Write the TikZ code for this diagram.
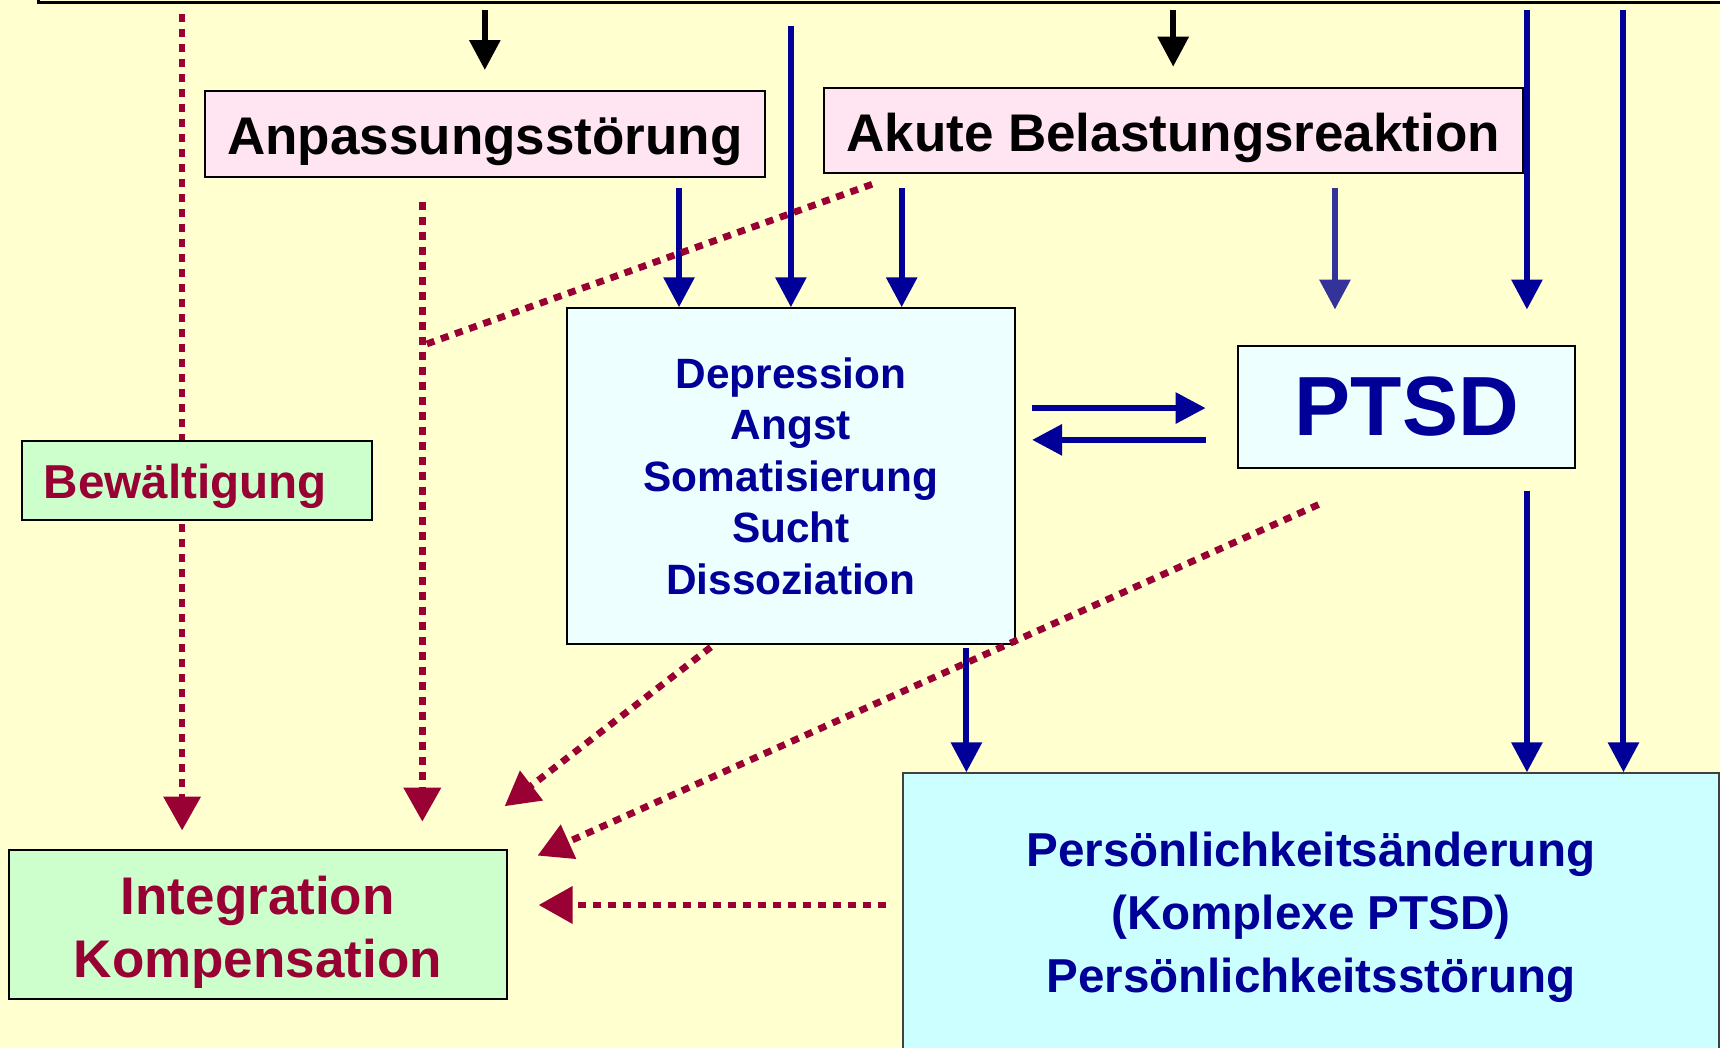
\documentclass[tikz,border=0pt]{standalone}
\usepackage{fontspec}
\setmainfont{Liberation Sans}
\usetikzlibrary{arrows.meta,positioning}

\definecolor{bgyellow}{HTML}{FFFFD0}
\definecolor{navy}{HTML}{000099}
\definecolor{indigo}{HTML}{333399}
\definecolor{wine}{HTML}{990033}
\definecolor{boxpink}{HTML}{FFE4F2}
\definecolor{boxcyan}{HTML}{EEFFFF}
\definecolor{boxaqua}{HTML}{CCFFFF}
\definecolor{boxgreen}{HTML}{CCFFCC}

\newcommand\diagbig{\fontsize{26.5}{31.4}\selectfont\bfseries}
\newcommand\diagmid{\fontsize{23.8}{31.5}\selectfont\bfseries}
\newcommand\diagsmall{\fontsize{21.2}{25.8}\selectfont\bfseries}
\newcommand\diaghuge{\fontsize{42}{48}\selectfont\bfseries}

\tikzset{
  box/.style={draw=black, line width=1pt, inner sep=0pt, align=center},
  boxtext/.style={inner sep=0pt, align=center},
  bluearr/.style={draw=navy, line width=3pt, -{Triangle[width=15pt,length=15pt]}, navy},
  blackarr/.style={line width=3pt, -{Triangle[width=15pt,length=15pt]}},
  wineline/.style={draw=wine, line width=3.4pt, dash pattern=on 4pt off 3.5pt},
  winearr/.style={wineline, -{Triangle[width=18pt,length=17pt]}, wine},
}

\begin{document}
\begin{tikzpicture}[x=0.5485pt, y=-0.5485pt]
  \fill[bgyellow] (0,0) rectangle (1568,955);
  \useasboundingbox (0,0) rectangle (1568,955);

  % boxes
  \node[box, line width=1.5pt, minimum width=858pt, minimum height=33pt] (top) at (817,-28) {};
  \node[box, fill=boxpink, minimum width=279.7pt, minimum height=42.8pt] (anp) at (442,122) {};
  \node[boxtext, font=\diagbig] (anptext) at ([yshift=-3.8pt]anp.center) {Anpassungsstörung};
  \node[box, fill=boxpink, minimum width=349.4pt, minimum height=42.8pt] (akute) at (1069.5,119) {};
  \node[boxtext, font=\diagbig] (akutetext) at ([yshift=-3.8pt]akute.center) {Akute Belastungsreaktion};
  \node[box, fill=boxcyan, minimum width=223.8pt, minimum height=167.8pt, font=\diagsmall, text=navy] (dep) at (721,434)
    {Depression\\Angst\\Somatisierung\\Sucht\\Dissoziation};
  \node[box, fill=boxcyan, minimum width=168.4pt, minimum height=61.4pt, font=\diaghuge, text=navy] (ptsd) at (1282.5,371) {PTSD};
  \node[box, fill=boxgreen, minimum width=249pt, minimum height=74.6pt] (integ) at (235,843) {};
  \node[boxtext, font=\diagbig, text=wine] (integtext) at ([yshift=-3.8pt]integ.center) {Integration\\Kompensation};
  \node[box, draw=black!75, fill=boxaqua, minimum width=408.1pt, minimum height=140.4pt] (pers) at (1195,833) {};
  \node[boxtext, font=\diagmid, text=navy] (perstext) at ([yshift=-1.6pt]pers.center)
    {Persönlichkeitsänderung\\(Komplexe PTSD)\\Persönlichkeitsstörung};

  % free ends
  \coordinate (xa) at (619,0);
  \coordinate (xc) at (822,0);
  \coordinate (xd) at (1217,0);
  \coordinate (xe) at (1392,0);
  \coordinate (xf) at (1480,0);
  \coordinate (xg) at (881,0);
  \coordinate (xw) at (166,0);
  \coordinate (xv) at (385,0);
  \coordinate (yr) at (0,372);
  \coordinate (yl) at (0,401);
  \coordinate (yh) at (0,825);
  \coordinate (akfoot) at (795,168);
  \coordinate (junct) at (385,315);
  \coordinate (depfoot) at (648,590);
  \coordinate (depend) at (460,735);
  \coordinate (ptsdfoot) at (1202,460);
  \coordinate (ptsdend) at (490,780);

  % coping
  \draw[winearr, shorten <=5pt, shorten >=9.3pt] (top.south -| xw) -- (integ.north -| xw);
  \node[box, fill=boxgreen, minimum width=175pt, minimum height=39.5pt] (bew) at (179.5,438) {};
  \node[boxtext, font=\fontsize{23.8}{28}\selectfont\bfseries, text=wine] (bewtext) at ([xshift=-5.8pt, yshift=-2.7pt]bew.center)
    {Bewältigung};

  \draw[blackarr, shorten <=3pt, shorten >=10pt] (top.south -| anp.north) -- (anp.north);
  \draw[blackarr, shorten <=3pt, shorten >=10pt] (top.south -| akute.north) -- (akute.north);

  \draw[bluearr, shorten <=11pt] (top.south -| dep.north) -- (dep.north);
  \draw[bluearr, shorten <=5pt] (anp.south -| xa) -- (dep.north -| xa);
  \draw[bluearr, shorten <=6.6pt] (akute.south -| xc) -- (dep.north -| xc);
  \draw[bluearr, draw=indigo, indigo, shorten <=6.6pt, shorten >=17.5pt] (akute.south -| xd) -- (ptsd.north -| xd);
  \draw[bluearr, shorten <=3pt, shorten >=17.5pt] (top.south -| xe) -- (ptsd.north -| xe);
  \draw[bluearr, shorten <=3pt] (top.south -| xf) -- (pers.north -| xf);
  \draw[bluearr, shorten <=11pt] (ptsd.south -| xe) -- (pers.north -| xe);
  \draw[bluearr, shorten <=1.5pt] (dep.south -| xg) -- (pers.north -| xg);

  \draw[bluearr, shorten <=8.2pt, shorten >=15.9pt] (dep.east |- yr) -- (ptsd.west |- yr);
  \draw[bluearr, shorten <=15.9pt, shorten >=8.2pt] (ptsd.west |- yl) -- (dep.east |- yl);

  \draw[wineline] (akfoot) -- (junct);
  \draw[winearr, shorten <=12pt, shorten >=13.7pt] (anp.south -| xv) -- (integ.north -| xv);
  \draw[winearr] (depfoot) -- (depend);
  \draw[winearr] (ptsdfoot) -- (ptsdend);
  \draw[winearr, shorten <=8pt, shorten >=15.4pt] (pers.west |- yh) -- (integ.east |- yh);
\end{tikzpicture}
\end{document}
